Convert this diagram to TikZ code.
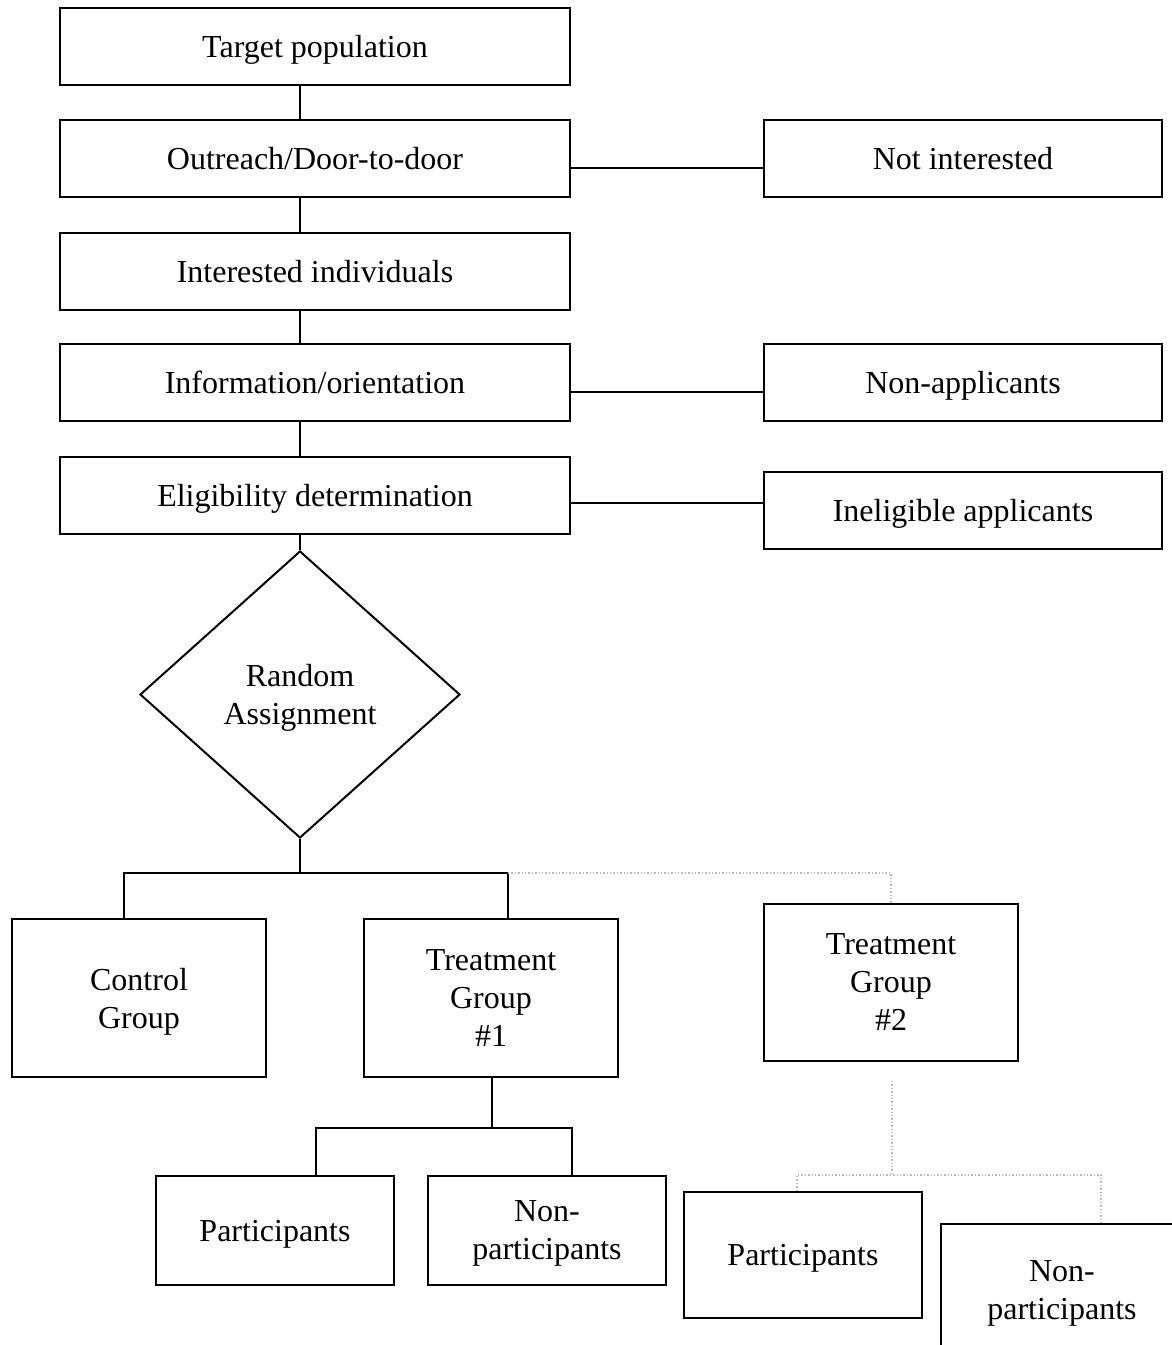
\documentclass[tikz,border=0pt]{standalone}
\usepackage{fontspec}
\setmainfont{Liberation Serif}
\usetikzlibrary{shapes.geometric, positioning}

\tikzset{
  box/.style={draw, line width=1pt, inner sep=0pt, align=center, text depth=0pt,
    font=\fontsize{16}{19}\selectfont},
  stage/.style={box, minimum width=255pt, minimum height=38.5pt},
  side/.style={box, minimum width=199pt, minimum height=38.5pt},
  group/.style={box, minimum width=127pt, minimum height=79pt},
  result/.style={box, minimum width=119pt, minimum height=54.5pt},
  link/.style={line width=1pt},
  optlink/.style={draw=gray!55, densely dotted, line width=0.7pt}
}

\begin{document}
\begin{tikzpicture}[x=0.5pt, y=-0.5pt]
  \useasboundingbox (0,0) rectangle (1172,1345);
  \clip (0,0) rectangle (1172,1345);

  % Main chain
  \node[stage] (target) at (315,46.5) {Target population};
  \node[stage] (outreach) at (315,158.5) {Outreach/Door-to-door};
  \node[stage] (interest) at (315,271) {Interested individuals};
  \node[stage] (info) at (315,382.5) {Information/orientation};
  \node[stage] (elig) at (315,495) {Eligibility determination};

  % Drop-outs
  \node[side] (notint) at (963,158.5) {Not interested};
  \node[side] (nonapp) at (963,382.5) {Non-applicants};
  \node[side] (inelig) at (963,510.5) {Ineligible applicants};

  % Random assignment
  \node[box, diamond, minimum width=160pt, minimum height=143.5pt]
    (rand) at (300,694.5) {Random\\Assignment};

  % Groups
  \node[group] (control) at (139,998) {Control\\Group};
  \node[group] (treat1) at (491,998) {Treatment\\Group\\\#1};
  \node[group, minimum height=78.5pt] (treat2) at (891,982.5) {Treatment\\Group\\\#2};

  % Take-up
  \node[result] (part1) at (275,1230.5) {Participants};
  \node[result] (nonpart1) at (547,1230.5) {Non-\\participants};
  \node[result, minimum height=63pt] (part2) at (803,1255) {Participants};
  \node[result, minimum width=121pt, minimum height=66pt] (nonpart2) at (1062,1290) {Non-\\participants};

  \coordinate (split) at (300,873);
  \coordinate (split1) at (492,1128);
  \coordinate (split2) at (892,1175);

  % Connectors
  \draw[link] (target.south -| rand.north) -- (outreach.north -| rand.north);
  \draw[link] (outreach.south -| rand.north) -- (interest.north -| rand.north);
  \draw[link] (interest.south -| rand.north) -- (info.north -| rand.north);
  \draw[link] (info.south -| rand.north) -- (elig.north -| rand.north);
  \draw[link] (elig.south -| rand.north) -- (rand.north);

  \draw[link] ([yshift=-4.5pt]outreach.east) -- ([yshift=-4.5pt]outreach.east -| notint.west);
  \draw[link] ([yshift=-4.5pt]info.east) -- ([yshift=-4.5pt]info.east -| nonapp.west);
  \draw[link] ([yshift=-4pt]elig.east) -- ([yshift=-4pt]elig.east -| inelig.west);

  \draw[link] (rand.south) -- (split);
  \draw[link] ([xshift=-7.5pt]control.north) |- (split) -| ([xshift=8.5pt]treat1.north);
  \draw[optlink] ([xshift=8.5pt]treat1.north |- split) -| (treat2.north);

  \draw[link] (treat1.south -| split1) -- (split1);
  \draw[link] ([xshift=20.5pt]part1.north) |- (split1) -| ([xshift=12.5pt]nonpart1.north);

  \draw[optlink] ([yshift=-9.5pt]treat2.south -| split2) -- (split2);
  \draw[optlink] ([xshift=-3pt]part2.north) |- (split2) -| ([xshift=19.5pt]nonpart2.north);
\end{tikzpicture}
\end{document}
